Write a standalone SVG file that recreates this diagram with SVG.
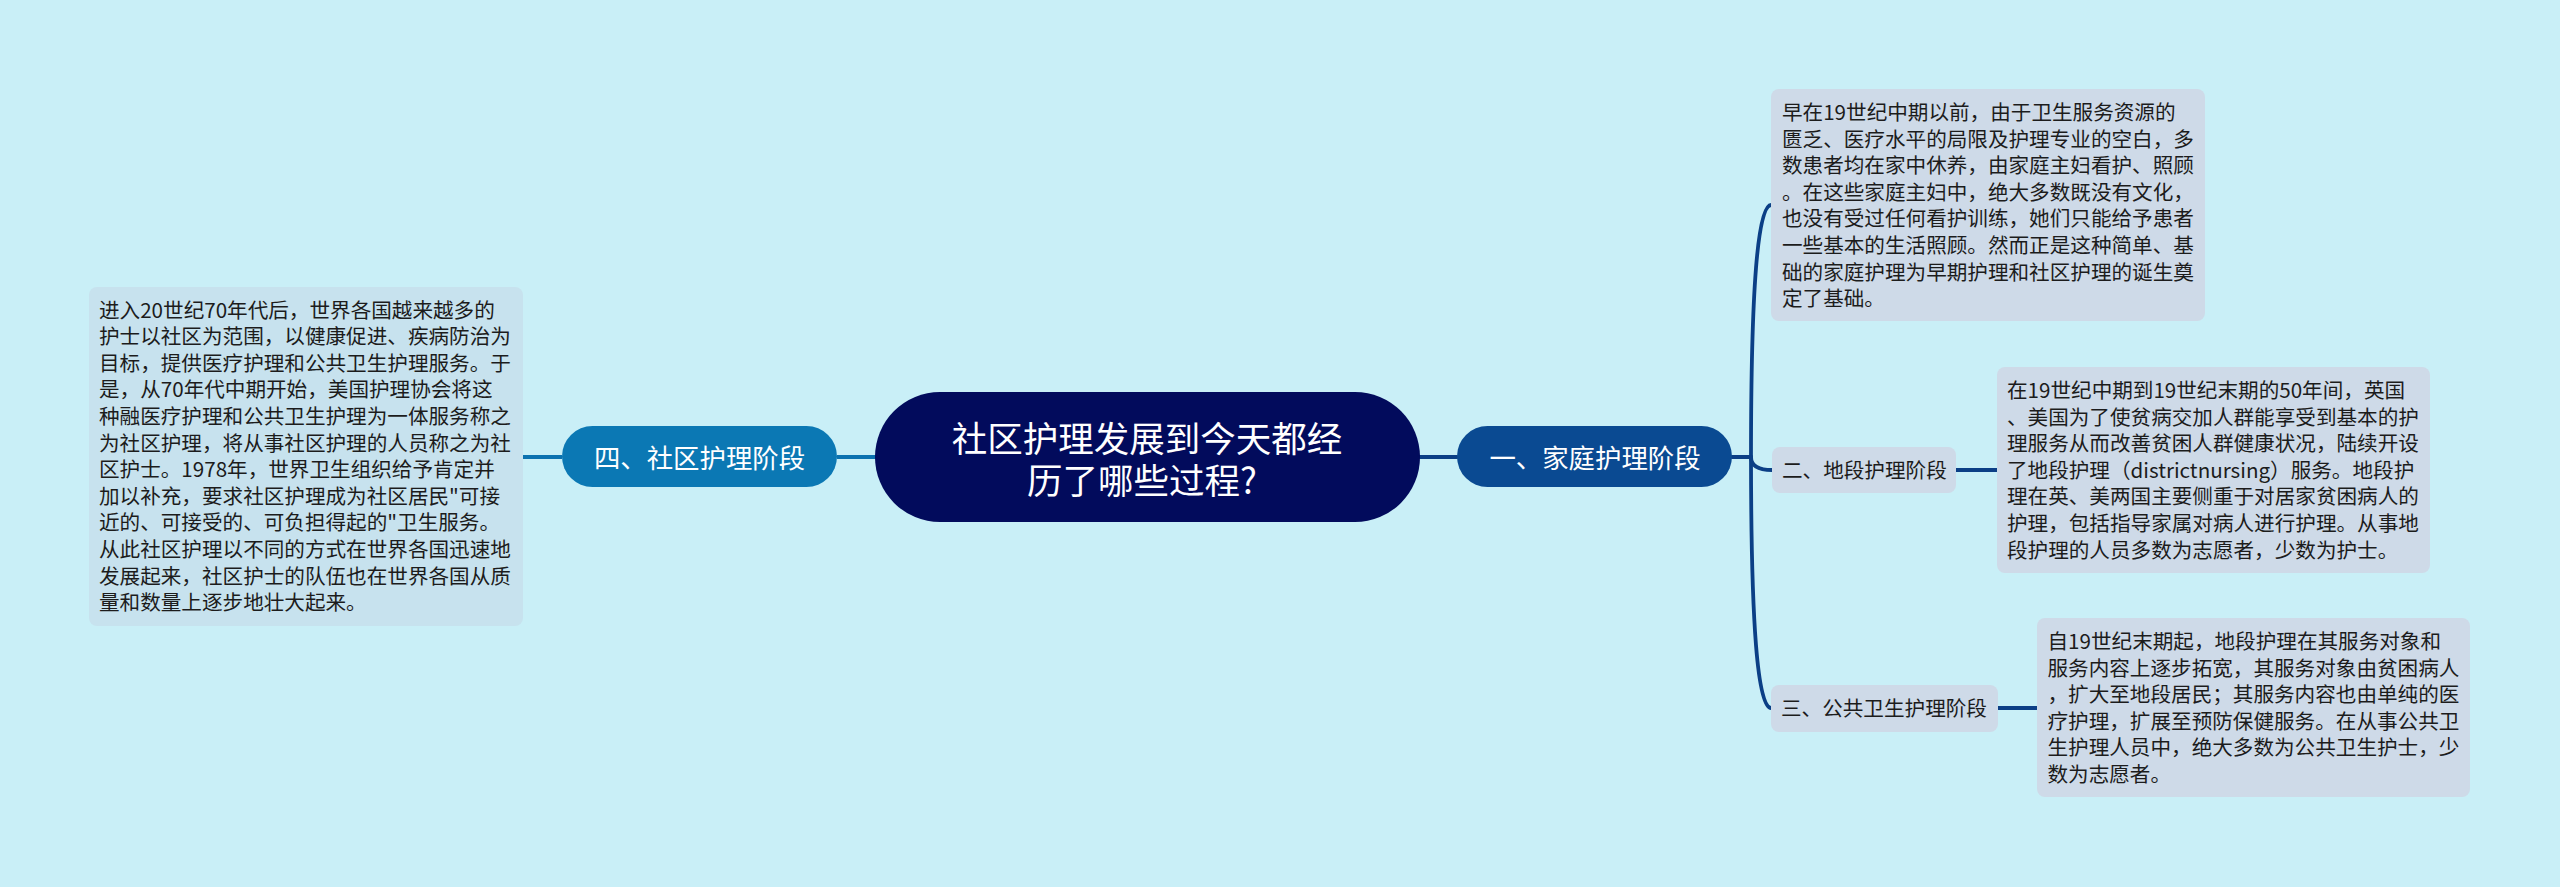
<svg xmlns="http://www.w3.org/2000/svg" width="2560" height="887" viewBox="0 0 2560 887">
<style>
.t{font-family:"Noto Sans CJK SC","Noto Sans",sans-serif;}
.body{font-size:20.6px;fill:#1c1c1c;}
.lbox{fill:#cedae8;}
.lboxl{fill:#c7e2ee;}
.c1{fill:none;stroke:#0b3f86;stroke-width:3.8;stroke-linecap:round;}
.c2{fill:none;stroke:#0b72b0;stroke-width:3.8;}
.wt{fill:#ffffff;}
</style>
<rect x="0" y="0" width="2560" height="887" fill="#c9eff7"/>
<g id="connectors">
<line class="c2" x1="523" y1="457" x2="562" y2="457"/>
<line class="c2" x1="837" y1="457" x2="876" y2="457"/>
<line class="c1" x1="1418" y1="457" x2="1457" y2="457"/>
<line class="c1" x1="1732" y1="457" x2="1751" y2="457"/>
<path class="c1" d="M1751,457 Q1751,205 1771,205"/>
<path class="c1" d="M1751,457 Q1751,470 1772,470"/>
<path class="c1" d="M1751,457 Q1751,708 1771,708"/>
<line class="c1" x1="1956" y1="470" x2="1997" y2="470"/>
<line class="c1" x1="1998" y1="708" x2="2037" y2="708"/>
</g>
<g id="main">
<rect x="875" y="392" width="545" height="130" rx="65" fill="#020b5c"/>
<text class="t wt" font-size="35.5" text-anchor="middle"><tspan x="1147" y="451.5">社区护理发展到今天都经</tspan><tspan x="1142" y="493.5">历了哪些过程?</tspan></text>
</g>
<g id="n1">
<rect x="1457" y="426" width="275" height="61" rx="30.5" fill="#0a4a92"/>
<text class="t wt" font-size="26.4" text-anchor="middle" x="1595" y="467.5">一、家庭护理阶段</text>
</g>
<g id="n4">
<rect x="562" y="426" width="275" height="61" rx="30.5" fill="#0b78b4"/>
<text class="t wt" font-size="26.4" text-anchor="middle" x="699.5" y="467.5">四、社区护理阶段</text>
</g>
<g id="n2">
<rect class="lbox" x="1772" y="447" width="184" height="46" rx="8"/>
<text class="t body" x="1782" y="477.5">二、地段护理阶段</text>
</g>
<g id="n3">
<rect class="lbox" x="1771" y="685" width="227" height="47" rx="8"/>
<text class="t body" x="1781" y="716">三、公共卫生护理阶段</text>
</g>
<g id="d1">
<rect class="lbox" x="1771" y="89" width="434" height="232" rx="8"/>
<text class="t body">
<tspan x="1782" y="120">早在19世纪中期以前，由于卫生服务资源的</tspan>
<tspan x="1782" y="146.6">匮乏、医疗水平的局限及护理专业的空白，多</tspan>
<tspan x="1782" y="173.2">数患者均在家中休养，由家庭主妇看护、照顾</tspan>
<tspan x="1782" y="199.8">。在这些家庭主妇中，绝大多数既没有文化，</tspan>
<tspan x="1782" y="226.4">也没有受过任何看护训练，她们只能给予患者</tspan>
<tspan x="1782" y="253">一些基本的生活照顾。然而正是这种简单、基</tspan>
<tspan x="1782" y="279.6">础的家庭护理为早期护理和社区护理的诞生奠</tspan>
<tspan x="1782" y="306.2">定了基础。</tspan>
</text>
</g>
<g id="d2">
<rect class="lbox" x="1997" y="367" width="433" height="206" rx="8"/>
<text class="t body">
<tspan x="2007" y="398">在19世纪中期到19世纪末期的50年间，英国</tspan>
<tspan x="2007" y="424.6">、美国为了使贫病交加人群能享受到基本的护</tspan>
<tspan x="2007" y="451.2">理服务从而改善贫困人群健康状况，陆续开设</tspan>
<tspan x="2007" y="477.8">了地段护理（districtnursing）服务。地段护</tspan>
<tspan x="2007" y="504.4">理在英、美两国主要侧重于对居家贫困病人的</tspan>
<tspan x="2007" y="531">护理，包括指导家属对病人进行护理。从事地</tspan>
<tspan x="2007" y="557.6">段护理的人员多数为志愿者，少数为护士。</tspan>
</text>
</g>
<g id="d3">
<rect class="lbox" x="2037" y="618" width="433" height="179" rx="8"/>
<text class="t body">
<tspan x="2047.5" y="649">自19世纪末期起，地段护理在其服务对象和</tspan>
<tspan x="2047.5" y="675.6">服务内容上逐步拓宽，其服务对象由贫困病人</tspan>
<tspan x="2047.5" y="702.2">，扩大至地段居民；其服务内容也由单纯的医</tspan>
<tspan x="2047.5" y="728.8">疗护理，扩展至预防保健服务。在从事公共卫</tspan>
<tspan x="2047.5" y="755.4">生护理人员中，绝大多数为公共卫生护士，少</tspan>
<tspan x="2047.5" y="782">数为志愿者。</tspan>
</text>
</g>
<g id="d4">
<rect class="lboxl" x="89" y="287" width="434" height="339" rx="8"/>
<text class="t body">
<tspan x="99" y="317.5">进入20世纪70年代后，世界各国越来越多的</tspan>
<tspan x="99" y="344.1">护士以社区为范围，以健康促进、疾病防治为</tspan>
<tspan x="99" y="370.7">目标，提供医疗护理和公共卫生护理服务。于</tspan>
<tspan x="99" y="397.3">是，从70年代中期开始，美国护理协会将这</tspan>
<tspan x="99" y="423.9">种融医疗护理和公共卫生护理为一体服务称之</tspan>
<tspan x="99" y="450.5">为社区护理，将从事社区护理的人员称之为社</tspan>
<tspan x="99" y="477.1">区护士。1978年，世界卫生组织给予肯定并</tspan>
<tspan x="99" y="503.7">加以补充，要求社区护理成为社区居民"可接</tspan>
<tspan x="99" y="530.3">近的、可接受的、可负担得起的"卫生服务。</tspan>
<tspan x="99" y="556.9">从此社区护理以不同的方式在世界各国迅速地</tspan>
<tspan x="99" y="583.5">发展起来，社区护士的队伍也在世界各国从质</tspan>
<tspan x="99" y="610.1">量和数量上逐步地壮大起来。</tspan>
</text>
</g>
</svg>
